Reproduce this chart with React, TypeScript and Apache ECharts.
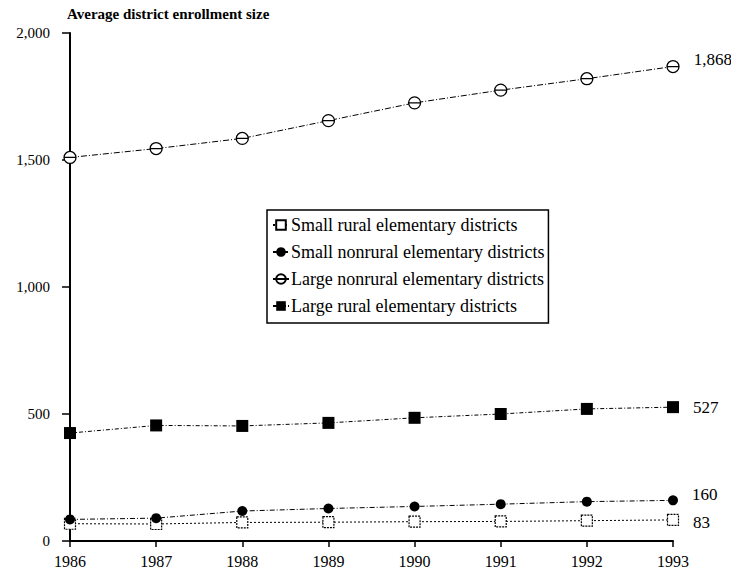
import React, { useEffect, useRef } from "react";
import * as echarts from "echarts";

const years = ["1986", "1987", "1988", "1989", "1990", "1991", "1992", "1993"];
const smallRural = [68, 67, 73, 74, 76, 77, 80, 83];
const smallNonrural = [85, 90, 118, 128, 136, 145, 155, 160];
const largeNonrural = [1510, 1545, 1585, 1655, 1725, 1775, 1820, 1868];
const largeRural = [425, 455, 453, 465, 485, 500, 520, 527];
const yTicks = { min: 0, max: 2000, interval: 500 };
const yTitle = "Average district enrollment size";
const seriesNames = [
  "Small rural elementary districts",
  "Small nonrural elementary districts",
  "Large nonrural elementary districts",
  "Large rural elementary districts",
];

const FONT = "'Liberation Serif', 'DejaVu Serif', serif";
const thetaPath = "path://M0,6 A6,6 0 1 1 12,6 A6,6 0 1 1 0,6 Z M0,6 L12,6";

function withEndLabel(values: number[], dy: number) {
  return values.map((v, i) =>
    i === values.length - 1
      ? {
          value: v,
          label: {
            show: true,
            position: "right",
            distance: 14,
            offset: [0, dy],
            formatter: (p: any) => Number(p.value).toLocaleString("en-US"),
            fontFamily: FONT,
            fontSize: 17,
            color: "#000",
          },
        }
      : v
  );
}

export default function App() {
  const ref = useRef<HTMLDivElement>(null);
  useEffect(() => {
    if (!ref.current) return;
    const chart = echarts.init(ref.current, undefined, { renderer: "svg" });
    const lineBase = { color: "#000", width: 1 };
    chart.setOption({
      animation: false,
      backgroundColor: "#fff",
      textStyle: { fontFamily: FONT, color: "#000" },
      grid: { left: 70, right: 58, top: 33, bottom: 33 },
      legend: {
        orient: "vertical",
        left: 267,
        top: 210,
        data: seriesNames,
        borderColor: "#000",
        borderWidth: 1.5,
        borderRadius: 0,
        padding: [6, 4, 8, 5],
        itemGap: 9,
        itemWidth: 16,
        itemHeight: 12,
        textStyle: { fontFamily: FONT, fontSize: 18, color: "#000", padding: [0, 0, 0, -3] },
      },
      xAxis: {
        type: "category",
        data: years,
        boundaryGap: false,
        axisLine: { lineStyle: { color: "#000", width: 2 } },
        axisTick: { show: true, length: 6, lineStyle: { color: "#000", width: 1.5 } },
        axisLabel: { fontFamily: FONT, fontSize: 16, color: "#000", margin: 12 },
        splitLine: { show: false },
      },
      yAxis: {
        type: "value",
        min: yTicks.min,
        max: yTicks.max,
        interval: yTicks.interval,
        name: yTitle,
        nameLocation: "end",
        nameGap: 12,
        nameTextStyle: {
          fontFamily: FONT,
          fontSize: 15,
          fontWeight: "bold",
          color: "#000",
          align: "left",
          padding: [0, 0, 0, -3],
        },
        axisLine: { show: true, lineStyle: { color: "#000", width: 2 } },
        axisTick: { show: true, length: 8, lineStyle: { color: "#000", width: 1.5 } },
        axisLabel: {
          fontFamily: FONT,
          fontSize: 15,
          color: "#000",
          margin: 20,
          formatter: (v: number) => v.toLocaleString("en-US"),
        },
        splitLine: { show: false },
      },
      series: [
        {
          name: seriesNames[0],
          type: "line",
          data: withEndLabel(smallRural, 3),
          symbol: "rect",
          symbolSize: 11,
          itemStyle: { color: "#fff", borderColor: "#000", borderWidth: 1.2, borderType: [2, 1] },
          lineStyle: { ...lineBase, type: [2, 2] },
          z: 2,
        },
        {
          name: seriesNames[1],
          type: "line",
          data: withEndLabel(smallNonrural, -6),
          symbol: "circle",
          symbolSize: 10,
          itemStyle: { color: "#000", borderColor: "#000", borderWidth: 0 },
          lineStyle: { ...lineBase, type: [5, 2, 1, 2] },
          z: 3,
        },
        {
          name: seriesNames[2],
          type: "line",
          data: withEndLabel(largeNonrural, -7),
          symbol: thetaPath,
          symbolSize: 12,
          symbolKeepAspect: true,
          itemStyle: { color: "#fff", borderColor: "#000", borderWidth: 1.3 },
          lineStyle: { ...lineBase, type: [6, 2, 1, 2] },
          z: 3,
        },
        {
          name: seriesNames[3],
          type: "line",
          data: withEndLabel(largeRural, 0),
          symbol: "rect",
          symbolSize: 12,
          itemStyle: { color: "#000", borderColor: "#000", borderWidth: 0 },
          lineStyle: { ...lineBase, type: [4, 2, 1, 2] },
          z: 3,
        },
      ],
    });
    return () => chart.dispose();
  }, []);
  return (
    <div
      ref={ref}
      style={{ position: "fixed", left: 0, top: 0, width: 731, height: 574, background: "#fff" }}
    />
  );
}
